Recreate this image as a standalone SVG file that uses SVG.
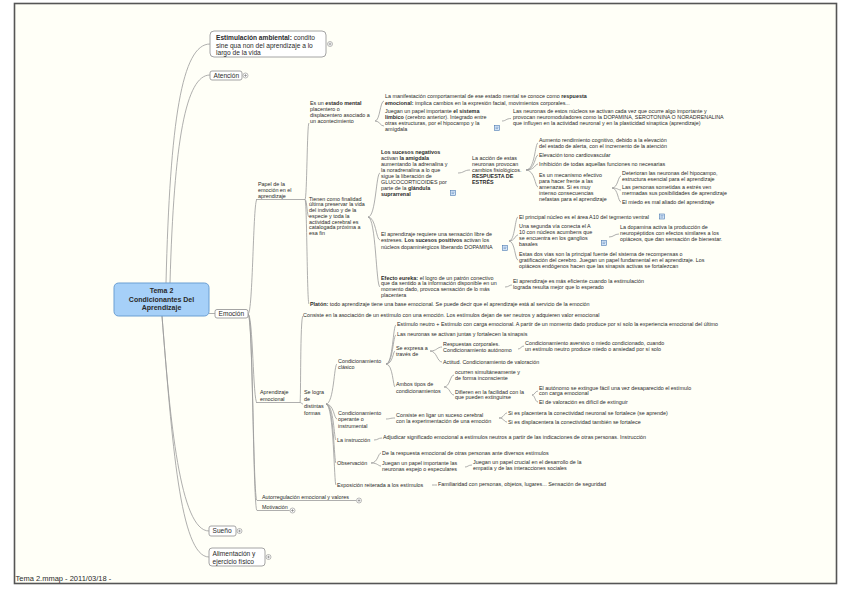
<svg xmlns="http://www.w3.org/2000/svg" width="848" height="599" viewBox="0 0 848 599">
<style>
text{font-family:"Liberation Sans",Arial,sans-serif;fill:#2a2a2a}
.s{font-size:5.4px}
.m{font-size:6.6px}
.b{font-weight:bold}
.c{fill:none;stroke:#9a9a9a;stroke-width:0.8}
.u{fill:none;stroke:#9a9a9a;stroke-width:0.8}
.box{fill:#fff;stroke:#9a9a9a;stroke-width:0.9}
.pl{fill:#fff;stroke:#8a8a8a;stroke-width:0.6}
.ic{fill:#d6e6f8;stroke:#4a78b0;stroke-width:0.6}
</style>
<defs>
<g id="plus"><circle r="2.5" class="pl"/><path d="M-1.4 0H1.4M0 -1.4V1.4" stroke="#777" stroke-width="0.6"/></g>
<g id="icon"><rect x="-2.5" y="-2.5" width="5" height="5" class="ic"/><path d="M-1.5 -0.8H1.5M-1.5 0.6H1" stroke="#4a78b0" stroke-width="0.5"/></g>
</defs>
<rect x="0" y="0" width="848" height="599" fill="#ffffff"/>
<rect x="14.5" y="3.5" width="822" height="580" fill="#fffff7" stroke="#555" stroke-width="1.6"/>

<g id="connectors">
<path class="c" d="M166 283 C170 120 182 44 210 44"/>
<path class="c" d="M170 283 C174 140 186 75 210 75"/>
<path class="c" d="M209 313.5 L215 313.5"/>
<path class="c" d="M162 316 C170 420 180 531 209 531"/>
<path class="c" d="M162 316 C172 440 180 557 209 557"/>
<path class="c" d="M248 314 C253 314 253 199.5 257 199.5"/>
<path class="c" d="M248 314 C253 314 253 402.5 257 402.5"/>
<path class="c" d="M248 314 C253 314 253 500.5 257 500.5"/>
<path class="c" d="M248 314 C253 314 253 510.5 257 510.5"/>
<path class="u" d="M256 199.5H305"/>
<path class="u" d="M256 402.5H300"/>
<path class="u" d="M257 500.5H356"/>
<path class="u" d="M257 510.5H289.5"/>
<path class="c" d="M305 199.5 C307 199.5 307 123 309 123"/>
<path class="c" d="M305 199.5 C307 199.5 307 217 309 217"/>
<path class="c" d="M305 199.5 C307 199.5 307 304 309 304"/>
<path class="c" d="M375 121 C380 121 380 101 384 101"/>
<path class="c" d="M375 121 C380 121 380 126 384 126"/>
<path class="c" d="M502 121 C506 121 506 118.5 511 118.5"/>
<path class="c" d="M368 217 C376 217 376 173 380 173"/>
<path class="c" d="M368 217 C376 217 376 240 380 240"/>
<path class="c" d="M368 217 C376 217 376 287 380 287"/>
<path class="c" d="M458 173 C464 173 464 170 470 170"/>
<path class="c" d="M526 170 C535 170 535 143 538 143"/>
<path class="c" d="M526 170 C535 170 535 155 538 155"/>
<path class="c" d="M526 170 C535 170 535 164 538 164"/>
<path class="c" d="M526 170 C535 170 535 187 538 187"/>
<path class="c" d="M612 188 C618 188 618 176 621 176"/>
<path class="c" d="M612 188 C618 188 618 190 621 190"/>
<path class="c" d="M612 188 C618 188 618 202 621 202"/>
<path class="c" d="M509 241 C515 241 515 217 518 217"/>
<path class="c" d="M509 241 C515 241 515 235 518 235"/>
<path class="c" d="M509 241 C515 241 515 260 518 260"/>
<path class="c" d="M609 237 C614 237 614 234 619 234"/>
<path class="c" d="M505 287 C509 287 509 285 512 285"/>
<path class="c" d="M300 402.5 C301 402.5 300 316 303 316"/>
<path class="c" d="M300 402.5 C301.5 402.5 301.5 404 303 404"/>
<path class="c" d="M326 404 C334 404 334 364 337 364"/>
<path class="c" d="M326 404 C334 404 334 419 337 419"/>
<path class="c" d="M326 404 C334 404 334 440 336 440"/>
<path class="c" d="M326 404 C334 404 334 463 336 463"/>
<path class="c" d="M326 404 C334 404 334 485 336 485"/>
<path class="c" d="M386 364 C393 364 393 325 396 325"/>
<path class="c" d="M386 364 C393 364 393 335 396 335"/>
<path class="c" d="M386 364 C393 364 393 351 395 351"/>
<path class="c" d="M386 364 C393 364 393 387 395 387"/>
<path class="c" d="M430 351 C437 351 437 347 442 347"/>
<path class="c" d="M430 351 C437 351 437 362 442 362"/>
<path class="c" d="M518 349 C521 349 521 346 524 346"/>
<path class="c" d="M444 387 C450 387 450 375 454 375"/>
<path class="c" d="M444 387 C450 387 450 395 454 395"/>
<path class="c" d="M532 395 C535 395 535 391 538 391"/>
<path class="c" d="M532 395 C535 395 535 402 538 402"/>
<path class="c" d="M386 419 C390 419 390 418 395 418"/>
<path class="c" d="M499 418 C504 418 504 413 507 413"/>
<path class="c" d="M499 418 C504 418 504 422 507 422"/>
<path class="c" d="M374 440 C378 440 378 438 382 438"/>
<path class="c" d="M371 463 C378 463 378 453 381 453"/>
<path class="c" d="M371 463 C378 463 378 466 381 466"/>
<path class="c" d="M465 467 C468 467 468 465 472 465"/>
<path class="c" d="M432 485 C434 485 435 485 437 485"/>
</g>

<g id="central">
<rect x="114" y="283" width="95" height="33" rx="4.5" fill="#a6d0f8" stroke="#6b9fd3" stroke-width="1"/>
<text class="b" font-size="7" text-anchor="middle" x="161.5" y="292.5">Tema 2</text>
<text class="b" font-size="7" text-anchor="middle" x="161.5" y="301.5">Condicionantes Del</text>
<text class="b" font-size="7" text-anchor="middle" x="161.5" y="310">Aprendizaje</text>
</g>

<g id="estimulacion">
<rect x="210" y="31" width="116" height="26" rx="4" class="box"/>
<text class="m" x="216" y="40"><tspan class="b">Estimulación ambiental:</tspan> condito</text>
<text class="m" x="216" y="47.5">sine qua non del aprendizaje a lo</text>
<text class="m" x="216" y="55">largo de la vida</text>
<use href="#plus" x="330" y="44"/>
</g>
<g id="atencion">
<rect x="210" y="71" width="32" height="9" rx="2" class="box"/>
<text class="m" x="213.5" y="77.6">Atención</text>
<use href="#plus" x="245.5" y="75.5"/>
</g>
<g id="emocion">
<rect x="215" y="309.5" width="33" height="8.5" rx="2" class="box"/>
<text class="m" x="218.5" y="316.2">Emoción</text>
</g>
<g id="sueno">
<rect x="209" y="526" width="27" height="10" rx="2" class="box"/>
<text class="m" x="212.5" y="533.3">Sueño</text>
<use href="#plus" x="239.5" y="531"/>
</g>
<g id="alimentacion">
<rect x="209" y="548" width="56" height="18" rx="3" class="box"/>
<text class="m" x="212.5" y="555.5">Alimentación y</text>
<text class="m" x="212.5" y="563.5">ejercicio físico</text>
<use href="#plus" x="268.5" y="557"/>
</g>

<g id="papel">
<text class="s" x="258" y="185.7">Papel de la</text>
<text class="s" x="258" y="191.7">emoción en el</text>
<text class="s" x="258" y="197.7">aprendizaje</text>
</g>
<g id="estado-mental">
<text class="s" x="310" y="104.7">Es un <tspan class="b">estado mental</tspan></text>
<text class="s" x="310" y="110.7">placentero o</text>
<text class="s" x="310" y="116.7">displacentero asociado a</text>
<text class="s" x="310" y="122.7">un acontecimiento</text>
</g>
<g id="manifestacion">
<text class="s" x="385" y="97.7">La manifestación comportamental de ese estado mental se conoce como   <tspan class="b">respuesta</tspan></text>
<text class="s" x="385" y="104.7"><tspan class="b">emocional:</tspan> implica cambios en la expresión facial, movimientos corporales...</text>
</g>
<g id="limbico">
<text class="s" x="385" y="112.7">Juegan un papel importante  <tspan class="b">el sistema</tspan></text>
<text class="s" x="385" y="118.7"><tspan class="b">límbico</tspan> (cerebro anterior). Integrado entre</text>
<text class="s" x="385" y="124.7">otras estructuras, por el hipocampo y la</text>
<text class="s" x="385" y="130.7">amígdala</text>
<use href="#icon" x="497" y="128"/>
</g>
<g id="neuronas-nucleos">
<text class="s" x="513" y="113.4">Las neuronas de estos núcleos se activan cada vez que ocurre algo importante y</text>
<text class="s" x="513" y="119.4">provocan neuromoduladores como la DOPAMINA, SEROTONINA O NORADRENALINA</text>
<text class="s" x="513" y="125">que influyen en la actividad neuronal y en la plasticidad sinaptica (aprendizaje)</text>
</g>
<g id="finalidad">
<text class="s" x="309" y="200.7">Tienen como finalidad</text>
<text class="s" x="309" y="206.4">última preservar la vida</text>
<text class="s" x="309" y="212.1">del individuo y de la</text>
<text class="s" x="309" y="217.8">especie y toda la</text>
<text class="s" x="309" y="223.5">actividad cerebral es</text>
<text class="s" x="309" y="229.2">catalogada próxima a</text>
<text class="s" x="309" y="234.9">esa fin</text>
</g>
<g id="sucesos-negativos">
<text class="s b" x="381" y="153.7">Los sucesos negativos</text>
<text class="s" x="381" y="159.7">activan <tspan class="b">la amígdala</tspan></text>
<text class="s" x="381" y="165.7">aumentando la adrenalina y</text>
<text class="s" x="381" y="171.7">la noradrenalina a lo que</text>
<text class="s" x="381" y="177.7">sigue la liberación de</text>
<text class="s" x="381" y="183.7">GLUCOCORTICOIDES por</text>
<text class="s" x="381" y="189.7">parte de la  <tspan class="b">glándula</tspan></text>
<text class="s b" x="381" y="195.7">suprarrenal</text>
<use href="#icon" x="453" y="193"/>
</g>
<g id="accion-neuronas">
<text class="s" x="472" y="159.7">La acción de estas</text>
<text class="s" x="472" y="165.7">neuronas provocan</text>
<text class="s" x="472" y="172.2">cambios fisiológicos.</text>
<text class="s b" x="472" y="178.4">RESPUESTA DE</text>
<text class="s b" x="472" y="184">ESTRÉS</text>
</g>
<g id="aumento">
<text class="s" x="539" y="141.7">Aumento rendimiento cognitivo, debido a la elevación</text>
<text class="s" x="539" y="147.7">del estado de alerta, con el incremento de la atención</text>
</g>
<g id="elevacion"><text class="s" x="539" y="156.7">Elevación tono cardiovascular</text></g>
<g id="inhibicion"><text class="s" x="539" y="165.7">Inhibición de todas aquellas funciones no necesarias</text></g>
<g id="mecanismo">
<text class="s" x="539" y="176.7">Es un mecanismo efectivo</text>
<text class="s" x="539" y="182.7">para hacer frente a las</text>
<text class="s" x="539" y="188.7">amenazas.  Si es muy</text>
<text class="s" x="539" y="194.7">intenso consecuencias</text>
<text class="s" x="539" y="200.7">nefastas para el aprendizaje</text>
</g>
<g id="deterioran">
<text class="s" x="622" y="174.7">Deterioran las neuronas del hipocampo,</text>
<text class="s" x="622" y="180.7">estructura esencial para el aprendizaje</text>
</g>
<g id="sometidas">
<text class="s" x="622" y="188.7">Las personas sometidas a estrés ven</text>
<text class="s" x="622" y="194.7">mermadas sus posibilidades de aprendizaje</text>
</g>
<g id="miedo"><text class="s" x="622" y="203.7">El miedo es mal aliado del aprendizaje</text></g>
<g id="libre-estres">
<text class="s" x="381" y="235.7">El aprendizaje requiere una sensación libre de</text>
<text class="s" x="381" y="242.2">estreses.  <tspan class="b">Los sucesos positivos</tspan>  activan los</text>
<text class="s" x="381" y="248.7">núcleos dopaminérgicos liberando DOPAMINA</text>
<use href="#icon" x="505" y="248"/>
</g>
<g id="a10">
<text class="s" x="519" y="218.7">El principal núcleo es el área A10 del tegmento ventral</text>
<use href="#icon" x="662" y="216.5"/>
</g>
<g id="segunda-via">
<text class="s" x="519" y="227.7">Una segunda vía conecta el A</text>
<text class="s" x="519" y="233.7">10 con núcleos acumbens que</text>
<text class="s" x="519" y="239.7">se encuentra en los ganglios</text>
<text class="s" x="519" y="245.7">basales</text>
<use href="#icon" x="604" y="243"/>
</g>
<g id="dopamina">
<text class="s" x="620" y="228.7">La dopamina activa la producción de</text>
<text class="s" x="620" y="234.7">neuropéptidos con efectos similares a los</text>
<text class="s" x="620" y="241.2">opiáceos, que dan sensación de bienestar.</text>
</g>
<g id="dos-vias">
<text class="s" x="519" y="255.7">Estas dos vías son la principal fuente del sistema de recompensas o</text>
<text class="s" x="519" y="261.7">gratificación del cerebro. Juegan un papel fundamental en el aprendizaje. Los</text>
<text class="s" x="519" y="268">opiáceos endógenos hacen que las sinapsis activas se fortalezcan</text>
</g>
<g id="eureka">
<text class="s" x="381" y="279.7"><tspan class="b">Efecto eureka:</tspan> el logro de un patrón conectivo</text>
<text class="s" x="381" y="285.2">que da sentido a la información disponible en un</text>
<text class="s" x="381" y="290.7">momento dado, provoca sensación de lo más</text>
<text class="s" x="381" y="297.2">placentera</text>
</g>
<g id="eficiente">
<text class="s" x="513" y="282.7">El aprendizaje es más eficiente cuando la estimulación</text>
<text class="s" x="513" y="289.2">lograda resulta mejor que lo esperado</text>
</g>
<g id="platon">
<text class="s" x="310" y="305.7"><tspan class="b">Platón:</tspan> todo aprendizaje tiene una base emocional. Se puede decir que el aprendizaje está al servicio de la emoción</text>
</g>

<g id="aprendizaje-emocional">
<text class="s" x="260" y="393.7">Aprendizaje</text>
<text class="s" x="260" y="400.7">emocional</text>
</g>
<g id="asociacion">
<text class="s" x="303" y="316.7">Consiste en la asociación de un estímulo con una emoción. Los estímulos dejan de ser neutros y adquieren valor emocional</text>
</g>
<g id="se-logra">
<text class="s" x="304" y="393.7">Se logra</text>
<text class="s" x="304" y="400.7">de</text>
<text class="s" x="304" y="407.7">distintas</text>
<text class="s" x="304" y="414.7">formas</text>
</g>
<g id="clasico">
<text class="s" x="338" y="362.7">Condicionamiento</text>
<text class="s" x="338" y="368.7">clásico</text>
</g>
<g id="estimulo-neutro"><text class="s" x="397" y="326.2">Estímulo neutro + Estímulo con carga emocional. A partir de un momento dado produce por sí solo la experiencia emocional del último</text></g>
<g id="neuronas-juntas"><text class="s" x="397" y="336.2">Las neuronas se activan juntas y fortalecen la sinapsis</text></g>
<g id="se-expresa">
<text class="s" x="396" y="349.7">Se expresa a</text>
<text class="s" x="396" y="355.7">través de</text>
</g>
<g id="respuestas">
<text class="s" x="443" y="345.7">Respuestas corporales.</text>
<text class="s" x="443" y="351.7">Condicionamiento autónomo</text>
</g>
<g id="aversivo">
<text class="s" x="525" y="344.7">Condicionamiento aversivo o miedo condicionado, cuando</text>
<text class="s" x="525" y="350.7">un estímulo neutro produce miedo o ansiedad por sí solo</text>
</g>
<g id="actitud"><text class="s" x="443" y="363.7">Actitud. Condicionamiento de valoración</text></g>
<g id="ambos">
<text class="s" x="396" y="385.7">Ambos tipos de</text>
<text class="s" x="396" y="392.7">condicionamientos</text>
</g>
<g id="ocurren">
<text class="s" x="455" y="373.7">ocurren simultáneamente y</text>
<text class="s" x="455" y="379.7">de forma inconsciente</text>
</g>
<g id="difieren">
<text class="s" x="455" y="393.7">Difieren en la facilidad con la</text>
<text class="s" x="455" y="399.2">que pueden extinguirse</text>
</g>
<g id="autonomo">
<text class="s" x="539" y="389.7">El autónomo se extingue fácil una vez desaparecido el estímulo</text>
<text class="s" x="539" y="395.2">con carga emocional</text>
</g>
<g id="valoracion"><text class="s" x="539" y="403.7">El de valoración es difícil de extinguir</text></g>
<g id="operante">
<text class="s" x="338" y="414.7">Condicionamiento</text>
<text class="s" x="338" y="420.7">operante o</text>
<text class="s" x="338" y="427.7">instrumental</text>
</g>
<g id="ligar">
<text class="s" x="396" y="416.7">Consiste en ligar un suceso cerebral</text>
<text class="s" x="396" y="422.7">con la experimentación de una emoción</text>
</g>
<g id="placentera"><text class="s" x="508" y="414.7">Si es placentera la conectividad neuronal se fortalece (se aprende)</text></g>
<g id="displacentera"><text class="s" x="508" y="423.7">Si es displacentera la conectividad también se fortalece</text></g>
<g id="instruccion"><text class="s" x="337" y="441.7">La instrucción</text></g>
<g id="adjudicar"><text class="s" x="383" y="439.2">Adjudicar significado emocional a estímulos neutros a partir de las indicaciones de otras personas. Instrucción</text></g>
<g id="observacion"><text class="s" x="337" y="464.7">Observación</text></g>
<g id="respuesta-otros"><text class="s" x="382" y="454.7">De la respuesta emocional de otras personas ante diversos estímulos</text></g>
<g id="espejo">
<text class="s" x="382" y="464.7">Juegan un papel importante las</text>
<text class="s" x="382" y="470.7">neuronas espejo o especulares</text>
</g>
<g id="empatia">
<text class="s" x="473" y="463.7">Juegan un papel crucial en el desarrollo de la</text>
<text class="s" x="473" y="469.7">empatía y de las interacciones sociales</text>
</g>
<g id="exposicion"><text class="s" x="337" y="486.7">Exposición reiterada a los estímulos</text></g>
<g id="familiaridad"><text class="s" x="438" y="486.2">Familiaridad con personas, objetos, lugares... Sensación de seguridad</text></g>
<g id="autorregulacion">
<text class="s" x="262" y="498.9">Autorregulación emocional y valores</text>
<use href="#plus" x="359" y="500.5"/>
</g>
<g id="motivacion">
<text class="s" x="262" y="508.9">Motivación</text>
<use href="#plus" x="292.5" y="510.5"/>
</g>

<text font-size="7.5" x="15.5" y="581" fill="#111">Tema 2.mmap - 2011/03/18 -</text>
</svg>
